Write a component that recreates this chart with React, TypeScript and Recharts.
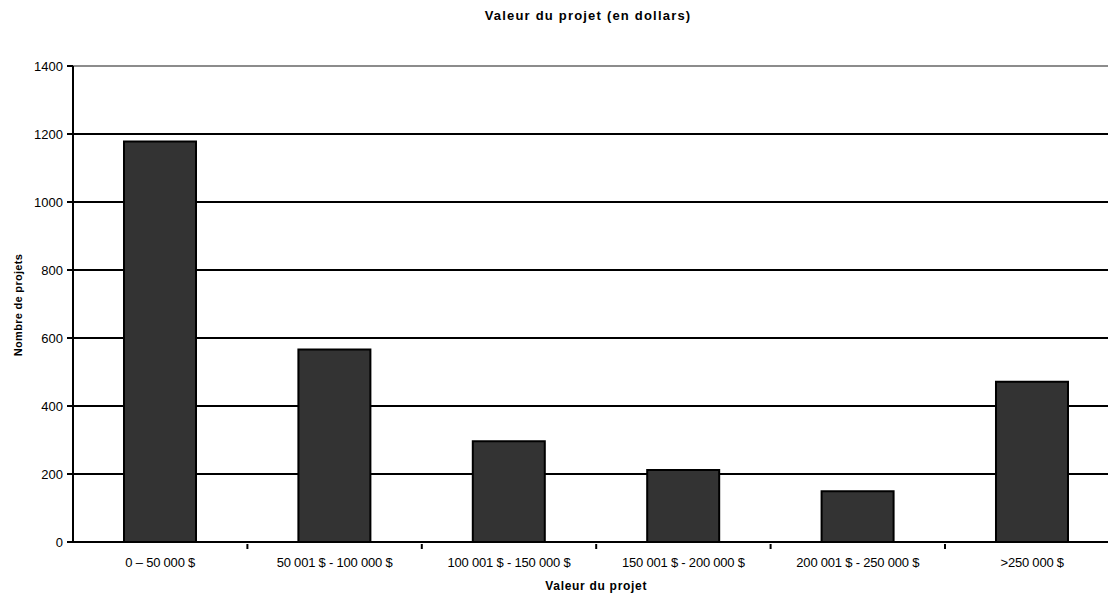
import React from 'react';
import { BarChart, Bar, XAxis, YAxis, CartesianGrid, ReferenceLine } from 'recharts';

const categories = [
  '0 – 50 000 $',
  '50 001 $ - 100 000 $',
  '100 001 $ - 150 000 $',
  '150 001 $ - 200 000 $',
  '200 001 $ - 250 000 $',
  '>250 000 $',
];
const projectCounts = [1178, 566, 296, 212, 149, 471];
const yTicks = [0, 200, 400, 600, 800, 1000, 1200, 1400];

const data = categories.map((name, i) => ({ name, count: projectCounts[i] }));

// plot geometry; the plot runs a bit past the right edge of the visible frame
const Y_AXIS_W = 73;
const BAND = 174.4;
const MARGIN = { top: 66, right: 7, bottom: 24, left: 0 };
const CHART_W = Y_AXIS_W + BAND * categories.length + MARGIN.right;
const CHART_H = 596;

const font = '"Liberation Sans", Arial, sans-serif';

// category label with the small separator tick at the right edge of the band
const CategoryTick = (props: any) => {
  const { x, y, payload } = props;
  return (
    <g>
      <line x1={x + BAND / 2} x2={x + BAND / 2} y1={y - 6} y2={y - 1} stroke="#000" strokeWidth={2} />
      <text x={x} y={y + 17} textAnchor="middle" fontSize={13} fill="#000" fontFamily={font} letterSpacing={-0.2}>
        {payload.value}
      </text>
    </g>
  );
};

const App = () => {
  return (
    <div
      style={{
        position: 'absolute',
        left: 0,
        top: 0,
        width: 1108,
        height: 596,
        overflow: 'hidden',
        background: '#fff',
        fontFamily: font,
      }}
    >
      <div
        style={{
          position: 'absolute',
          top: 8,
          left: 388,
          width: 400,
          textAlign: 'center',
          fontSize: 13,
          fontWeight: 'bold',
          letterSpacing: 1.2,
        }}
      >
        Valeur du projet (en dollars)
      </div>
      <BarChart width={CHART_W} height={CHART_H} data={data} margin={MARGIN}>
        <CartesianGrid vertical={false} stroke="#000" strokeWidth={2} />
        <ReferenceLine y={1400} stroke="#8c8c8c" strokeWidth={2} />
        <XAxis
          dataKey="name"
          height={30}
          axisLine={{ stroke: '#000', strokeWidth: 2 }}
          tickLine={false}
          tick={<CategoryTick />}
          interval={0}
        />
        <YAxis
          width={Y_AXIS_W}
          domain={[0, 1400]}
          ticks={yTicks}
          interval={0}
          axisLine={{ stroke: '#000', strokeWidth: 2 }}
          tickLine={{ stroke: '#000', strokeWidth: 2 }}
          tickSize={6}
          tickMargin={4}
          tick={{ fontSize: 13, fill: '#000', fontFamily: font }}
        />
        <Bar dataKey="count" fill="#333333" stroke="#000" strokeWidth={2} barSize={72} isAnimationActive={false} />
      </BarChart>
      <div
        style={{
          position: 'absolute',
          top: 579,
          left: Y_AXIS_W,
          width: BAND * categories.length,
          textAlign: 'center',
          fontSize: 12,
          fontWeight: 'bold',
          letterSpacing: 0.7,
        }}
      >
        Valeur du projet
      </div>
      <div
        style={{
          position: 'absolute',
          left: 18,
          top: 305,
          transform: 'translate(-50%, -50%) rotate(-90deg)',
          whiteSpace: 'nowrap',
          fontSize: 11,
          fontWeight: 'bold',
          letterSpacing: 0.3,
        }}
      >
        Nombre de projets
      </div>
    </div>
  );
};

export default App;
